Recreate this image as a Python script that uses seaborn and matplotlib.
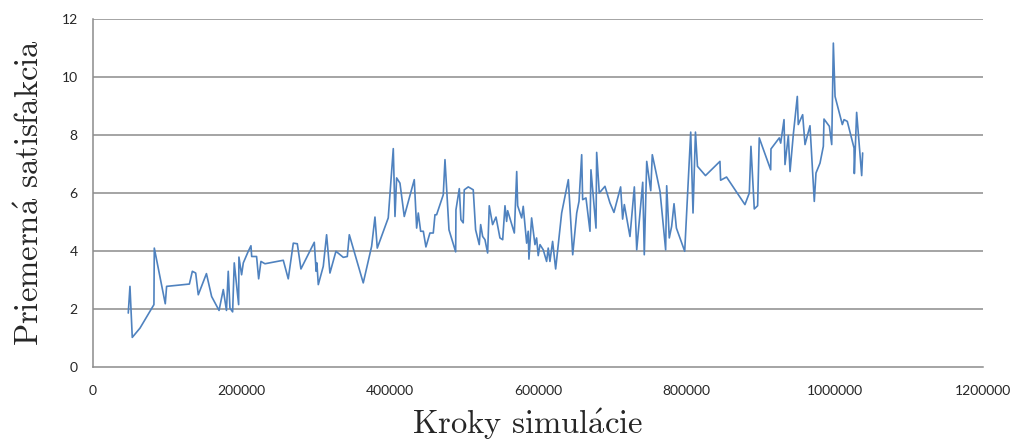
import matplotlib
matplotlib.use("Agg")
import matplotlib.pyplot as plt
import seaborn as sns
import pandas as pd

# Simulation steps (x) and average satisfaction (y)
steps = [
    47600, 49900, 53000, 63400, 82200, 82700, 97500, 99300, 130000, 134000,
    138500, 142000, 153000, 160000, 170000, 175700, 180000, 182400, 184700, 188300,
    190500, 196400, 196800, 200400, 202700, 209400, 213000, 214000, 220600, 223400,
    226500, 231900, 256600, 263300, 270100, 275500, 280400, 298400, 300900, 301900,
    303800, 310500, 315000, 319500, 327600, 337500, 342900, 345600, 364400, 375700,
    380200, 383300, 398100, 404900, 407200, 409400, 413900, 419700, 433200, 436400,
    438600, 441800, 445400, 448900, 454300, 458800, 461100, 463300, 472300, 474600,
    480000, 489000, 489400, 493900, 496100, 499200, 500600, 506000, 512700, 515900,
    520800, 522700, 525400, 528500, 532100, 534300, 538800, 543400, 548700, 552400,
    555500, 557700, 559100, 568100, 571300, 572600, 578000, 580100, 584700, 586800,
    587800, 591400, 595900, 598100, 600300, 602700, 607100, 611600, 613800, 616100,
    619700, 623800, 631900, 640900, 646800, 652200, 655300, 658900, 660200, 664700,
    670100, 671400, 678200, 679100, 682600, 690300, 697000, 702400, 711400, 714100,
    716400, 724000, 727200, 729900, 733100, 741200, 743300, 746600, 752000, 754100,
    764500, 772100, 773500, 777000, 780200, 783400, 786600, 797800, 805900, 809000,
    812300, 815000, 825800, 845300, 846200, 854200, 879000, 884900, 887100, 891600,
    896100, 898300, 913700, 914100, 925300, 927200, 931700, 933000, 937500, 939800,
    944200, 949600, 950900, 956800, 960000, 966700, 972500, 974800, 980200, 984700,
    985600, 992800, 996000, 998200, 1000500, 1010300, 1012600, 1017000, 1026100, 1026500,
    1029600, 1036400, 1037700,
]
satisfaction = [
    1.86, 2.78, 1.02, 1.34, 2.15, 4.10, 2.18, 2.78, 2.86, 3.30,
    3.24, 2.49, 3.22, 2.43, 1.95, 2.67, 1.95, 3.30, 2.03, 1.90,
    3.59, 2.15, 3.79, 3.18, 3.59, 3.99, 4.18, 3.81, 3.81, 3.04,
    3.64, 3.56, 3.68, 3.04, 4.27, 4.25, 3.38, 4.30, 3.30, 3.59,
    2.84, 3.47, 4.56, 3.24, 3.99, 3.78, 3.81, 4.56, 2.90, 4.16,
    5.17, 4.10, 5.14, 7.53, 5.19, 6.52, 6.34, 5.19, 6.46, 4.79,
    5.31, 4.68, 4.68, 4.14, 4.62, 4.62, 5.25, 5.25, 5.94, 7.15,
    4.73, 3.97, 5.42, 6.15, 5.08, 4.97, 6.11, 6.21, 6.11, 4.73,
    4.22, 4.91, 4.50, 4.39, 3.93, 5.56, 4.91, 5.17, 4.45, 4.39,
    5.56, 5.02, 5.39, 4.62, 6.74, 5.56, 5.14, 5.54, 4.27, 4.68,
    3.72, 5.14, 4.22, 4.45, 3.84, 4.22, 4.04, 3.64, 4.10, 3.64,
    4.33, 3.38, 5.31, 6.46, 3.87, 5.31, 5.71, 7.32, 5.77, 5.83,
    4.68, 6.80, 4.79, 7.40, 6.00, 6.23, 5.66, 5.33, 6.21, 5.10,
    5.60, 4.50, 5.42, 6.21, 4.04, 6.37, 3.87, 7.09, 6.08, 7.32,
    6.06, 4.04, 6.25, 4.45, 4.85, 5.63, 4.79, 3.99, 8.10, 5.31,
    8.10, 6.92, 6.60, 7.09, 6.44, 6.55, 5.60, 6.00, 7.61, 5.45,
    5.56, 7.90, 6.80, 7.52, 7.90, 7.72, 8.53, 6.98, 7.98, 6.74,
    8.01, 9.33, 8.36, 8.70, 7.67, 8.32, 5.71, 6.69, 7.03, 7.61,
    8.55, 8.30, 7.67, 11.17, 9.33, 8.36, 8.53, 8.47, 7.55, 6.67,
    8.78, 6.60, 7.38,
]
x_ticks = [0, 200000, 400000, 600000, 800000, 1000000, 1200000]
y_ticks = [0, 2, 4, 6, 8, 10, 12]
x_label = r"Kroky simul$\mathrm{\acute{a}}$cie"
y_label = r"Priemern$\mathrm{\acute{a}}$ satisfakcia"

df = pd.DataFrame({"steps": steps, "satisfaction": satisfaction})

sns.set_style("white")
plt.rcParams["font.family"] = ["Lato", "DejaVu Sans"]
plt.rcParams["mathtext.fontset"] = "cm"

fig = plt.figure(figsize=(10.17, 4.43), dpi=100)
ax = fig.add_axes([0.0914, 0.1716, 0.8752, 0.7855])

grid_c = "#8c8c8c"
ax.set_axisbelow(True)
for yv in y_ticks[1:]:
    ax.axhline(yv, color=grid_c, lw=1.1, zorder=0)

sns.lineplot(data=df, x="steps", y="satisfaction", ax=ax, color="#4f82bf",
             lw=1.2, estimator=None, sort=False)

ax.set_xlim(0, 1200000)
ax.set_ylim(0, 12)
ax.set_xticks(x_ticks)
ax.set_xticklabels([str(v) for v in x_ticks])
ax.set_yticks(y_ticks)
ax.set_yticklabels([str(v) for v in y_ticks])

for s in ["top", "right"]:
    ax.spines[s].set_visible(False)
for s in ["left", "bottom"]:
    ax.spines[s].set_color(grid_c)
    ax.spines[s].set_linewidth(1.1)

ax.tick_params(axis="both", which="major", direction="out", length=5,
               width=1, color=grid_c, labelsize=10, labelcolor="#262626")
ax.tick_params(axis="x", pad=8)
ax.tick_params(axis="y", pad=6)

serif = ["cmr10", "DejaVu Serif"]
ax.set_xlabel(x_label, fontsize=23.5, family=serif)
ax.set_ylabel(y_label, fontsize=23.5, family=serif, labelpad=12)
ax.xaxis.set_label_coords(0.488, -0.113)

fig.savefig("out.png", dpi=100)
